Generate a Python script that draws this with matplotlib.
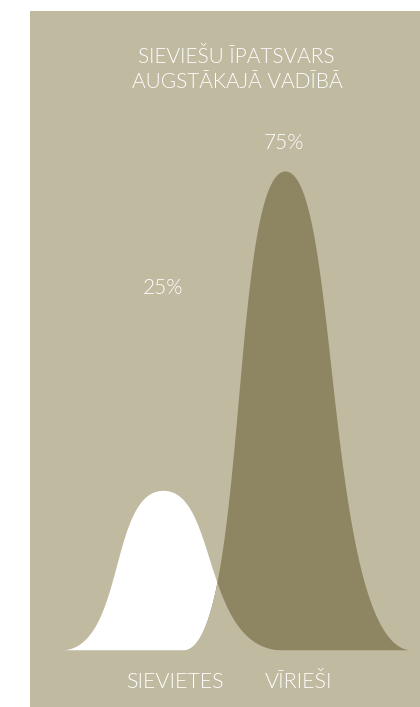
import numpy as np
import matplotlib
matplotlib.use("Agg")
import matplotlib.pyplot as plt

# ---- data ----
title_lines = ["SIEVIEŠU ĪPATSVARS", "AUGSTĀKAJĀ VADĪBĀ"]
categories = ["SIEVIETES", "VĪRIEŠI"]
shares = [25, 75]
value_labels = ["25%", "75%"]

# ---- style / layout ----
W, H = 420, 707
BG = "#C0BAA1"
OLIVE = "#8E8662"
FILL_COLORS = ["#FFFFFF", OLIVE]
TEXT = "#FFFFFF"
FONT = ["Lato", "DejaVu Sans"]

centers = [163, 285]          # pixel x of each bell's peak
half_left = [103, 102]        # left foot distance
half_right = [120, 127]       # right foot distance
ctrl_peak, ctrl_foot = 55, 38  # bezier handles
base_px, top_px = 650, 171     # baseline pixel, pixel of max share
panel_left, panel_top = 30, 11

px_per_unit = (base_px - top_px) / max(shares)


def bell(x, xc, wl, wr):
    t = np.linspace(0, 1, 600)
    yy = (1 - t) ** 2 * (1 + 2 * t)
    out = np.zeros_like(x)
    for sign, w in ((1, wr), (-1, wl)):
        d = 3 * (1 - t) ** 2 * t * ctrl_peak + 3 * (1 - t) * t ** 2 * ctrl_foot + t ** 3 * w
        xs = xc + sign * d
        if sign < 0:
            xs, ys = xs[::-1], yy[::-1]
            mask = (x <= xc) & (x >= xc - w)
        else:
            ys = yy
            mask = (x >= xc) & (x <= xc + w)
        out[mask] = np.interp(x[mask], xs, ys)
    return out


fig = plt.figure(figsize=(W / 100, H / 100), dpi=100)
fig.patch.set_facecolor("white")
ax = fig.add_axes([panel_left / W, 0, (W - panel_left) / W, (H - panel_top) / H])
ax.set_facecolor(BG)
ax.set_xlim(panel_left, W)
ax.set_ylim(-(H - base_px) / px_per_unit, (base_px - panel_top) / px_per_unit)
ax.axis("off")
ax.add_patch(plt.Rectangle((0, 0), 1, 1, transform=ax.transAxes, color=BG, zorder=0))

x = np.linspace(panel_left, W, 4000)
heights = []
for i, s in enumerate(shares):
    h = s * bell(x, centers[i], half_left[i], half_right[i])
    heights.append(h)
    ax.fill_between(x, 0, h, color=FILL_COLORS[i], lw=0, zorder=2 + i)
overlap = np.minimum(heights[0], heights[1])
ax.fill_between(x, -0.3, overlap, color=BG, lw=0, zorder=5)


def ftext(px, py, s, size):
    fig.text(px / W, 1 - py / H, s, ha="center", va="baseline", color=TEXT,
             fontsize=size, family=FONT, fontweight=300)


ftext(236, 62.7, title_lines[0], 15)
ftext(237, 88.3, title_lines[1], 15)
ftext(163, 294, value_labels[0], 15)
ftext(284, 149.3, value_labels[1], 15)
ftext(175, 688.3, categories[0], 15.5)
ftext(298, 688.3, categories[1], 15.5)

fig.savefig("out.png", dpi=100, facecolor="white")
